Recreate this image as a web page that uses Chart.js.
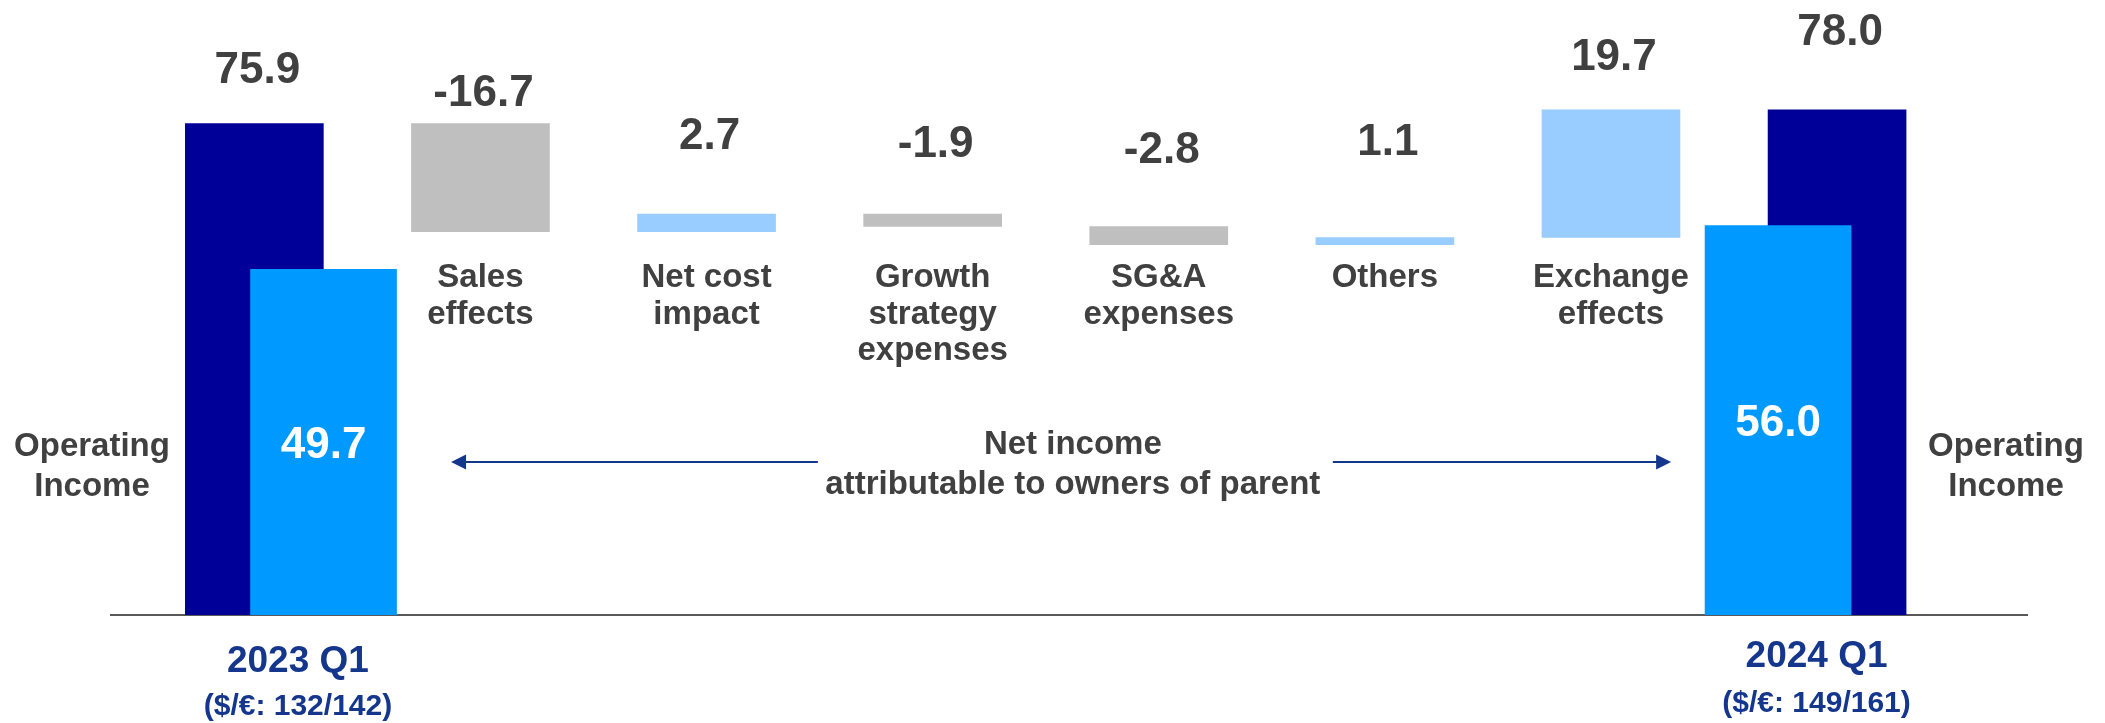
<!DOCTYPE html>
<html>
<head>
<meta charset="utf-8">
<script src="https://cdn.jsdelivr.net/npm/chart.js@4/dist/chart.umd.min.js"></script>
<style>
  html, body { margin: 0; padding: 0; background: #fff; }
  #wrap { width: 2105px; height: 723px; position: relative; }
</style>
</head>
<body>
<div id="wrap"><canvas id="bridge"></canvas></div>
<script>
// --- data ---
const periods = ['2023 Q1', '2024 Q1'];
const fxRates = ['($/€: 132/142)', '($/€: 149/161)'];
const operatingIncome = [75.9, 78.0];
const netIncome = [49.7, 56.0];
const changeNames = [['Sales', 'effects'], ['Net cost', 'impact'], ['Growth', 'strategy', 'expenses'],
                     ['SG&A', 'expenses'], ['Others'], ['Exchange', 'effects']];
const changes = [-16.7, 2.7, -1.9, -2.8, 1.1, 19.7];

// --- look ---
const DARK = '#000099', NET = '#0099FF', UP = '#99CCFF', DOWN = '#BFBFBF';
const TEXT = '#404040', NAVY = '#14368C';
const FONT = "'Liberation Sans', Arial, sans-serif";
const LABEL_LIFT = [56, 33, 81, 73, 79, 98, 56, 81];  // value label height above each bar top
const NET_SHIFT = [0.306, -0.261];                      // net income bar beside the total bar
const PERIOD_Y = [[672, 715], [667, 712]];              // baselines of period / fx lines
const X_MIN = -0.634, X_MAX = 7.84;

// build waterfall ranges
const bridge = [{ x: 0, y: [0, operatingIncome[0]] }];
const bridgeColors = [DARK];
let running = operatingIncome[0];
changes.forEach((c, i) => {
  const next = Math.round((running + c) * 10) / 10;
  bridge.push({ x: i + 1, y: [Math.min(running, next), Math.max(running, next)] });
  bridgeColors.push(c < 0 ? DOWN : UP);
  running = next;
});
bridge.push({ x: changes.length + 1, y: [0, operatingIncome[1]] });
bridgeColors.push(DARK);
const valueTexts = [operatingIncome[0], ...changes, operatingIncome[1]].map(v => v.toFixed(1));
const lastIdx = changes.length + 1;
const netData = netIncome.map((v, i) => ({ x: (i === 0 ? 0 : lastIdx) + NET_SHIFT[i], y: v }));

function text(ctx, str, x, y, size, color) {
  ctx.font = 'bold ' + size + 'px ' + FONT;
  ctx.fillStyle = color;
  ctx.textAlign = 'center';
  ctx.textBaseline = 'alphabetic';
  ctx.fillText(str, x, y);
}

function arrowHead(ctx, x, y, dir) {
  ctx.beginPath();
  ctx.moveTo(x, y);
  ctx.lineTo(x - dir * 15, y - 7.5);
  ctx.lineTo(x - dir * 15, y + 7.5);
  ctx.closePath();
  ctx.fill();
}

const annotations = {
  id: 'annotations',
  afterDatasetsDraw(chart) {
    const ctx = chart.ctx;
    const x = chart.scales.xb, y = chart.scales.y, yn = chart.scales.yNet;
    ctx.save();

    // values above the bridge bars
    bridge.forEach((b, i) => {
      const top = y.getPixelForValue(b.y[1]);
      text(ctx, valueTexts[i], x.getPixelForValue(b.x) + 3, top - LABEL_LIFT[i] + 16, 44, TEXT);
    });

    // names of the changes
    changeNames.forEach((lines, i) => {
      const cx = x.getPixelForValue(i + 1);
      lines.forEach((l, j) => text(ctx, l, cx, 287 + j * 36.5, 33, TEXT));
    });

    // net income values inside the light bars
    netData.forEach(d => {
      const mid = (yn.getPixelForValue(d.y) + yn.getPixelForValue(0)) / 2;
      text(ctx, d.y.toFixed(1), x.getPixelForValue(d.x), mid + 16, 44, '#FFFFFF');
    });

    // side captions
    text(ctx, 'Operating', 92, 456, 33, TEXT);
    text(ctx, 'Income', 92, 496, 33, TEXT);
    text(ctx, 'Operating', 2006, 456, 33, TEXT);
    text(ctx, 'Income', 2006, 496, 33, TEXT);

    // period labels under the axis
    [0, lastIdx].forEach((idx, i) => {
      const cx = (x.getPixelForValue(idx) + x.getPixelForValue(netData[i].x)) / 2 + 9;
      text(ctx, periods[i], cx, PERIOD_Y[i][0], 37, NAVY);
      text(ctx, fxRates[i], cx, PERIOD_Y[i][1], 30, NAVY);
    });

    // net income arrow
    const ay = 462;
    const left = x.getPixelForValue(0.87), right = x.getPixelForValue(6.266);
    const mid = x.getPixelForValue(3.62);
    ctx.strokeStyle = NAVY;
    ctx.fillStyle = NAVY;
    ctx.lineWidth = 2;
    ctx.beginPath();
    ctx.moveTo(left + 10, ay); ctx.lineTo(mid - 255, ay);
    ctx.moveTo(mid + 260, ay); ctx.lineTo(right - 10, ay);
    ctx.stroke();
    arrowHead(ctx, left, ay, -1);
    arrowHead(ctx, right, ay, 1);
    text(ctx, 'Net income', mid, 454, 33, TEXT);
    text(ctx, 'attributable to owners of parent', mid, 494, 33, TEXT);

    ctx.restore();
  }
};

const hiddenX = { type: 'linear', min: X_MIN, max: X_MAX, offset: false, display: false,
                  ticks: { includeBounds: false, stepSize: 1 } };

new Chart(document.getElementById('bridge'), {
  type: 'bar',
  data: {
    datasets: [
      {
        label: 'Net income attributable to owners of parent',
        data: netData,
        xAxisID: 'x2',
        yAxisID: 'yNet',
        backgroundColor: NET,
        grouped: false,
        barPercentage: 1,
        categoryPercentage: 1,
        maxBarThickness: 146,
        order: 1
      },
      {
        label: 'Operating income bridge',
        data: bridge,
        xAxisID: 'xb',
        yAxisID: 'y',
        backgroundColor: bridgeColors,
        grouped: false,
        barPercentage: 1,
        categoryPercentage: 1,
        maxBarThickness: 138,
        order: 2
      }
    ]
  },
  options: {
    responsive: true,
    maintainAspectRatio: false,
    animation: false,
    layout: { padding: { left: 111, right: 78, top: 0, bottom: 108 } },
    plugins: { legend: { display: false }, tooltip: { enabled: false } },
    scales: {
      // visible axis only carries the baseline
      x: {
        type: 'linear', min: 0, max: 1, z: 1, offset: false,
        ticks: { display: false },
        grid: { display: false, drawTicks: false },
        border: { display: true, color: '#595959', width: 2 }
      },
      xb: hiddenX,
      x2: Object.assign({}, hiddenX),
      y: { min: 0, max: 94.97, display: false },
      yNet: { min: 0, max: 88.42, display: false }
    }
  },
  plugins: [annotations]
});
</script>
</body>
</html>
